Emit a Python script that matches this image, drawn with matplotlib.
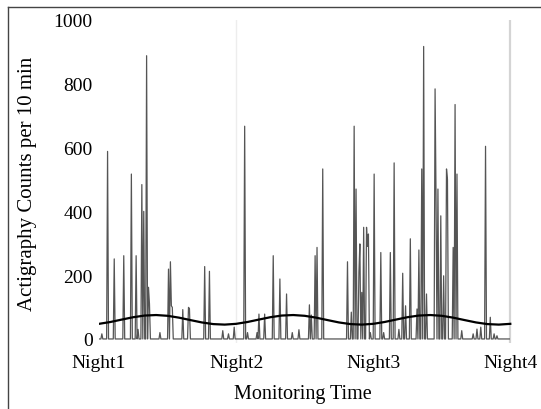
import numpy as np
import matplotlib
matplotlib.use('Agg')
import matplotlib.pyplot as plt
from matplotlib.lines import Line2D

# 10-min epochs over three nights (432 epochs), only non-zero epochs listed
spike_epochs = [3, 9, 16, 26, 34, 39, 41, 45, 47, 50, 52, 53, 64, 73, 75, 76, 77,
                88, 94, 95, 111, 116, 130, 136, 142, 153, 156, 166, 168, 174,
                183, 190, 197, 203, 210, 221, 223, 227, 229, 235, 261, 265, 268,
                270, 273, 274, 276, 278, 281, 282, 283, 285, 289, 296, 299, 306,
                310, 315, 319, 322, 327, 334, 336, 339, 341, 344, 353, 354, 356,
                359, 362, 365, 366, 372, 374, 376, 381, 393, 397, 401, 406, 411,
                415, 418]
spike_counts = [16, 588, 251, 261, 517, 261, 30, 484, 400, 888, 162, 110, 20, 219,
                242, 104, 99, 92, 99, 95, 227, 212, 26, 16, 37, 667, 20, 20, 78,
                78, 261, 188, 141, 20, 29, 107, 75, 261, 287, 533, 242, 84, 667,
                470, 209, 298, 146, 350, 350, 290, 329, 20, 517, 271, 20, 271,
                552, 30, 206, 104, 314, 94, 279, 533, 917, 141, 784, 444, 470,
                386, 198, 533, 500, 287, 735, 517, 26, 16, 31, 37, 604, 68, 16, 10]

# cosinor fit read every 2 hours
cosinor_hours = list(range(0, 73, 2))
cosinor_fit = [47.4, 53.2, 60.8, 68.2, 73.4, 75.0, 72.6, 66.8, 59.2, 51.8, 46.6, 45.0,
               47.4, 53.2, 60.8, 68.2, 73.4, 75.0, 72.6, 66.8, 59.2, 51.8, 46.6, 45.0,
               47.4, 53.2, 60.8, 68.2, 73.4, 75.0, 72.6, 66.8, 59.2, 51.8, 46.6, 45.0,
               47.4]

night_ticks = [0, 24, 48, 72]
night_labels = ['Night1', 'Night2', 'Night3', 'Night4']

counts = np.zeros(432)
counts[spike_epochs] = spike_counts
hours = np.arange(432) / 6.0

plt.rcParams['font.family'] = ['Liberation Serif', 'DejaVu Serif']

fig = plt.figure(figsize=(5.41, 4.10), dpi=100)
ax = fig.add_axes([0.183, 0.1615, 0.7634, 0.7873])

ax.axvline(24, color='#ededed', lw=1.0, zorder=0)
ax.axvline(72, color='#d4d4d4', lw=1.6, zorder=0)
ax.plot(hours, counts, color='#555555', lw=0.9)
ax.plot(cosinor_hours, cosinor_fit, color='black', lw=1.6)

ax.set_xlim(0, 72.3)
ax.set_ylim(-12, 1000)
ax.set_yticks(range(0, 1001, 200))
ax.set_xticks(night_ticks)
ax.set_xticklabels(night_labels)
ax.tick_params(axis='y', length=0, pad=4.5, labelsize=14)
ax.tick_params(axis='x', length=0, pad=8, labelsize=14)
for s in ax.spines.values():
    s.set_visible(False)

fig.text(28 / 541, 1 - 184 / 410, 'Actigraphy Counts per 10 min', rotation=90,
         ha='center', va='center', fontsize=15)
fig.text(303 / 541, 1 - 395 / 410, 'Monitoring Time', ha='center', va='center',
         fontsize=14.5)

# outer frame
fig.add_artist(Line2D([8 / 541, 8 / 541], [0, 1 - 8 / 410], color='#444444', lw=1.0))
fig.add_artist(Line2D([8 / 541, 1], [1 - 8 / 410, 1 - 8 / 410], color='#444444', lw=1.0))

fig.savefig('out.png', dpi=100)
